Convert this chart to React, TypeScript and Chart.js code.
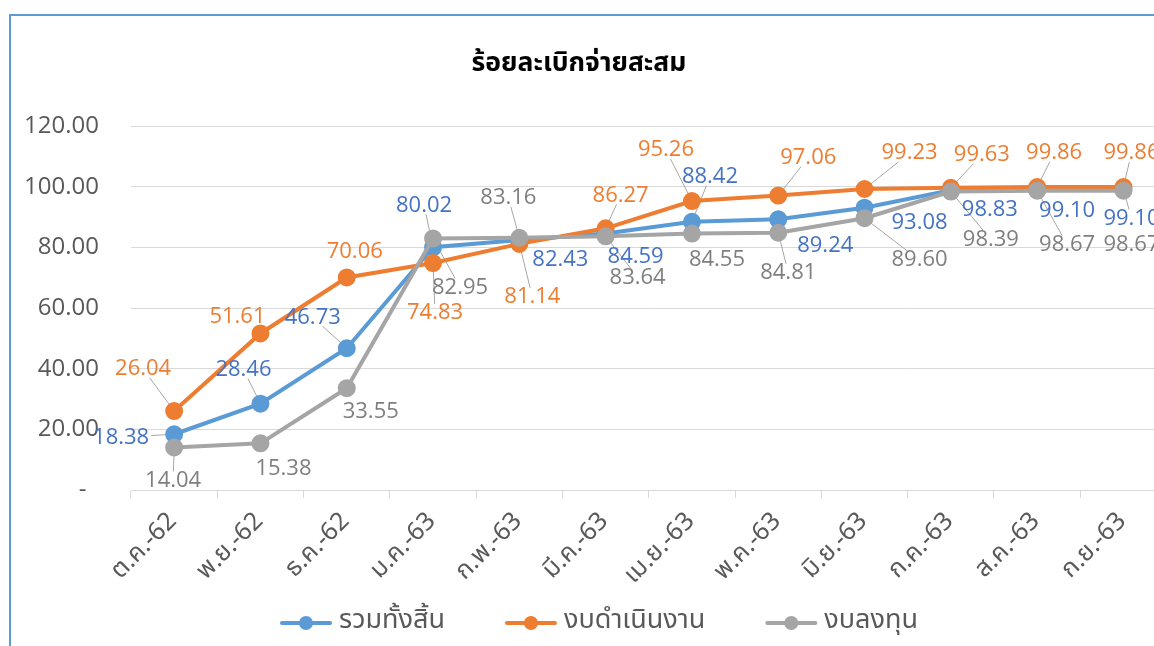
import React, { useEffect, useRef } from 'react';
import { Chart, registerables } from 'chart.js';

Chart.register(...registerables);

const categories = ['ต.ค.-62', 'พ.ย.-62', 'ธ.ค.-62', 'ม.ค.-63', 'ก.พ.-63', 'มี.ค.-63', 'เม.ย.-63', 'พ.ค.-63', 'มิ.ย.-63', 'ก.ค.-63', 'ส.ค.-63', 'ก.ย.-63'];
const totalValues = [18.38, 28.46, 46.73, 80.02, 82.43, 84.59, 88.42, 89.24, 93.08, 98.83, 99.10, 99.10];
const operatingValues = [26.04, 51.61, 70.06, 74.83, 81.14, 86.27, 95.26, 97.06, 99.23, 99.63, 99.86, 99.86];
const investmentValues = [14.04, 15.38, 33.55, 82.95, 83.16, 83.64, 84.55, 84.81, 89.60, 98.39, 98.67, 98.67];
const seriesNames = ['รวมทั้งสิ้น', 'งบดำเนินงาน', 'งบลงทุน'];
const chartTitle = 'ร้อยละเบิกจ่ายสะสม';
const yMin = 0;
const yMax = 120;
const yStep = 20;

// label placement (pixel offsets from each point) and leader-line flags
const totalLabelOffsets = [[-53, 3], [-17, -34], [-34, -31], [-9, -42], [41, 20], [30, 23], [18, -45], [47, 26], [55, 15], [39, 20], [30, 21], [8, 29]];
const operatingLabelOffsets = [[-31, -42], [-23, -17], [8, -26], [2, 50], [13, 53], [15, -33], [-26, -51], [30, -38], [45, -36], [31, -33], [17, -34], [8, -34]];
const investmentLabelOffsets = [[-1, 33], [23, 25], [24, 24], [27, 49], [-11, -40], [32, 41], [25, 26], [10, 40], [55, 42], [40, 48], [30, 54], [8, 54]];
const totalLeaders = [1, 1, 1, 1, 0, 0, 1, 0, 0, 0, 0, 1];
const operatingLeaders = [1, 0, 0, 1, 1, 1, 1, 1, 1, 1, 1, 1];
const investmentLeaders = [1, 0, 0, 1, 1, 1, 0, 1, 1, 1, 1, 0];

const lineColors = ['#5B9BD5', '#ED7D31', '#A5A5A5'];
const labelColors = ['#4472C4', '#ED7D31', '#7F7F7F'];
const numFont = "'Open Sans', 'Noto Sans', sans-serif";
const thaiFont = "'Noto Sans Thai', 'Noto Sans', 'DejaVu Sans', sans-serif";

const CANVAS_W = 1200;
const CANVAS_H = 646;
const PLOT_L = 131;
const PLOT_R = 1166.6;
const PLOT_T = 126;
const PLOT_B = 490;
const LEGEND_CX = 599;
const LEGEND_Y = 623;

const offsetsAll = [totalLabelOffsets, operatingLabelOffsets, investmentLabelOffsets];
const leadersAll = [totalLeaders, operatingLeaders, investmentLeaders];
const valuesAll = [totalValues, operatingValues, investmentValues];

const labelPlugin = {
  id: 'excelLabels',
  beforeDatasetsDraw(chart: any) {
    const ctx = chart.ctx;
    ctx.save();
    ctx.font = `22px ${numFont}`;
    ctx.strokeStyle = '#A6A6A6';
    ctx.lineWidth = 1;
    for (let d = 0; d < 3; d++) {
      const meta = chart.getDatasetMeta(d);
      meta.data.forEach((pt: any, i: number) => {
        if (!leadersAll[d][i]) return;
        const [dx, dy] = offsetsAll[d][i];
        const text = valuesAll[d][i].toFixed(2);
        const hw = ctx.measureText(text).width / 2 + 2;
        const hh = 9;
        const cx = pt.x + dx;
        const cy = pt.y + dy;
        const vx = pt.x - cx;
        const vy = pt.y - cy;
        const t = Math.min(vx !== 0 ? hw / Math.abs(vx) : Infinity, vy !== 0 ? hh / Math.abs(vy) : Infinity);
        if (t >= 1) return;
        ctx.beginPath();
        ctx.moveTo(cx + vx * t, cy + vy * t);
        ctx.lineTo(pt.x, pt.y);
        ctx.stroke();
      });
    }
    ctx.restore();
  },
  afterDatasetsDraw(chart: any) {
    const ctx = chart.ctx;
    ctx.save();
    ctx.font = `22px ${numFont}`;
    ctx.textAlign = 'center';
    ctx.textBaseline = 'middle';
    for (let d = 0; d < 3; d++) {
      const meta = chart.getDatasetMeta(d);
      ctx.fillStyle = labelColors[d];
      meta.data.forEach((pt: any, i: number) => {
        const [dx, dy] = offsetsAll[d][i];
        ctx.fillText(valuesAll[d][i].toFixed(2), pt.x + dx, pt.y + dy);
      });
    }
    ctx.restore();
  },
  afterDraw(chart: any) {
    const ctx = chart.ctx;
    ctx.save();
    // title
    ctx.font = `bold 26.5px ${thaiFont}`;
    ctx.fillStyle = '#000000';
    ctx.textAlign = 'center';
    ctx.textBaseline = 'middle';
    ctx.fillText(chartTitle, 579, 66);
    // legend
    ctx.font = `27px ${thaiFont}`;
    ctx.textAlign = 'left';
    const markerW = 52;
    const gapText = 7;
    const gapItem = 60;
    const widths = seriesNames.map((n) => ctx.measureText(n).width);
    const total = widths.reduce((a, w) => a + markerW + gapText + w, 0) + gapItem * (seriesNames.length - 1);
    let x = LEGEND_CX - total / 2;
    chart.data.datasets.forEach((ds: any, d: number) => {
      ctx.strokeStyle = ds.borderColor;
      ctx.lineWidth = 4;
      ctx.lineCap = 'round';
      ctx.beginPath();
      ctx.moveTo(x + 2, LEGEND_Y);
      ctx.lineTo(x + markerW - 2, LEGEND_Y);
      ctx.stroke();
      ctx.fillStyle = ds.borderColor;
      ctx.beginPath();
      ctx.arc(x + markerW / 2, LEGEND_Y, 7, 0, Math.PI * 2);
      ctx.fill();
      ctx.fillStyle = '#595959';
      ctx.fillText(ds.label, x + markerW + gapText, LEGEND_Y);
      x += markerW + gapText + widths[d] + gapItem;
    });
    ctx.restore();
  },
};

export default function App() {
  const ref = useRef<HTMLCanvasElement | null>(null);

  useEffect(() => {
    if (!ref.current) return;
    const chart = new Chart(ref.current, {
      type: 'line',
      data: {
        labels: categories,
        datasets: valuesAll.map((vals, d) => ({
          label: seriesNames[d],
          data: vals,
          borderColor: lineColors[d],
          backgroundColor: lineColors[d],
          pointBackgroundColor: lineColors[d],
          pointBorderColor: lineColors[d],
          borderWidth: 4,
          pointRadius: 7,
          pointStyle: 'circle',
          tension: 0,
          fill: false,
          order: 2 - d,
        })),
      },
      options: {
        responsive: false,
        animation: false,
        layout: { padding: { left: 0, right: CANVAS_W - PLOT_R, top: PLOT_T, bottom: 0 } },
        plugins: {
          title: { display: false },
          tooltip: { enabled: false },
          legend: { display: false },
        },
        scales: {
          x: {
            type: 'category',
            offset: true,
            grid: { offset: true, drawOnChartArea: false, drawTicks: true, tickLength: 8, color: '#D9D9D9' },
            border: { display: true, color: '#D9D9D9' },
            ticks: { autoSkip: false, minRotation: 45, maxRotation: 45, color: '#595959', font: { size: 25, family: thaiFont }, padding: 10 },
            afterFit: (s: any) => { s.height = CANVAS_H - PLOT_B; },
          },
          y: {
            min: yMin,
            max: yMax,
            grid: { color: '#D9D9D9', drawTicks: false },
            border: { display: false },
            ticks: {
              stepSize: yStep,
              padding: 32,
              color: '#595959',
              font: { size: 24, family: numFont },
              callback: (v: any) => (Number(v) === 0 ? '-  ' : Number(v).toFixed(2)),
            },
            afterFit: (s: any) => { s.width = PLOT_L; },
          },
        },
      } as any,
      plugins: [labelPlugin],
    });
    return () => chart.destroy();
  }, []);

  return (
    <div style={{ position: 'fixed', left: 0, top: 0, width: 1154, height: 646, overflow: 'hidden', background: '#ffffff' }}>
      <div style={{ position: 'absolute', left: 9, top: 14, width: 1220, height: 700, border: '2px solid #5B9BD5', boxSizing: 'border-box' }} />
      <canvas ref={ref} width={CANVAS_W} height={CANVAS_H} style={{ position: 'absolute', left: 0, top: 0, width: CANVAS_W, height: CANVAS_H }} />
    </div>
  );
}
